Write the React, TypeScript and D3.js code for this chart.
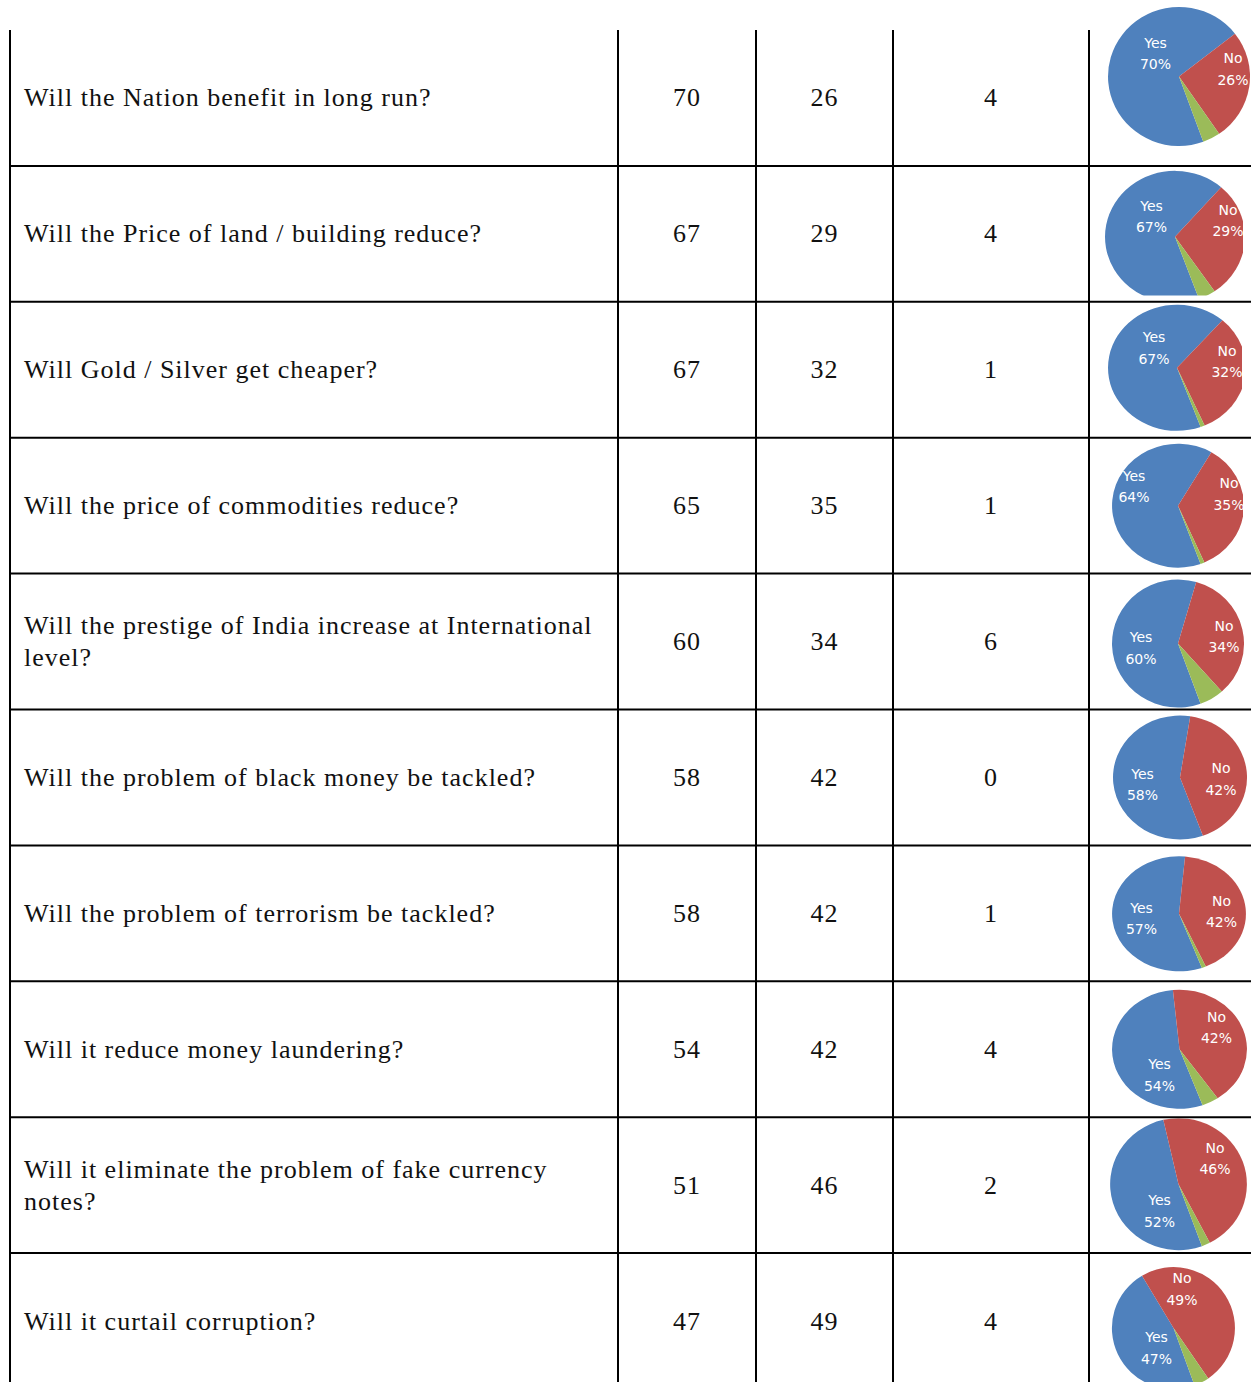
import React from "react";
import * as d3 from "d3";

const questions: string[][] = [
  ["Will the Nation benefit in long run?"],
  ["Will the Price of land / building reduce?"],
  ["Will Gold / Silver get cheaper?"],
  ["Will the price of commodities reduce?"],
  ["Will the prestige of India increase at International", "level?"],
  ["Will the problem of black money be tackled?"],
  ["Will the problem of terrorism be tackled?"],
  ["Will it reduce money laundering?"],
  ["Will it eliminate the problem of fake currency", "notes?"],
  ["Will it curtail corruption?"],
];
const yesValues = [70, 67, 67, 65, 60, 58, 58, 54, 51, 47];
const noValues = [26, 29, 32, 35, 34, 42, 42, 42, 46, 49];
const cantSayValues = [4, 4, 1, 1, 6, 0, 1, 4, 2, 4];

// pie chart percentages (as labelled in the embedded charts)
const pieYes = [70, 67, 67, 64, 60, 58, 57, 54, 52, 47];
const pieNo = [26, 29, 32, 35, 34, 42, 42, 42, 46, 49];
const pieOther = [4, 4, 1, 1, 6, 0, 1, 4, 2, 4];
const sliceNames = ["Yes", "No", "Other"];

// ---- layout (not data) ----
const W = 1251;
const H = 1382;
const colX = [10, 618, 756, 893, 1089];
const tableTop = 30;
const rowH = 135.9;
// pie placement: center offsets from (pieColCenter, rowCenter), radii, clip
const pieLayout = [
  { dx: 9, dy: -21.5, rx: 71, ry: 69.5, clipR: 1251, clipB: 2000 },
  { dx: 5, dy: 3, rx: 70, ry: 66, clipR: 1243, clipB: 295.5 },
  { dx: 7, dy: -2, rx: 69, ry: 63, clipR: 1242, clipB: 2000 },
  { dx: 8, dy: 0, rx: 66, ry: 62, clipR: 1243, clipB: 2000 },
  { dx: 8, dy: 2, rx: 66, ry: 64, clipR: 1251, clipB: 2000 },
  { dx: 10, dy: 0, rx: 67, ry: 62, clipR: 1251, clipB: 2000 },
  { dx: 9, dy: 0.5, rx: 67, ry: 57.5, clipR: 1251, clipB: 2000 },
  { dx: 9.5, dy: 0, rx: 67.5, ry: 59.5, clipR: 1251, clipB: 2000 },
  { dx: 8.5, dy: -1, rx: 68.5, ry: 66, clipR: 1251, clipB: 2000 },
  { dx: 3.5, dy: 7, rx: 61.5, ry: 61, clipR: 1251, clipB: 2000 },
];
const labelOffsets = [
  { yes: [-23.5, -23.5], no: [54, -8] },
  { yes: [-23.5, -21], no: [53, -17] },
  { yes: [-23, -20.5], no: [50, -7] },
  { yes: [-44, -20], no: [51, -12.5] },
  { yes: [-37, 3.5], no: [46, -8] },
  { yes: [-37.5, 6.5], no: [41, 1] },
  { yes: [-37.5, 4], no: [42.5, -3] },
  { yes: [-20, 25], no: [37, -22.5] },
  { yes: [-19, 26], no: [36.5, -26.5] },
  { yes: [-17, 19], no: [8.5, -40] },
];
const sliceColors = ["#4F81BD", "#C0504D", "#9BBB59"];

export default function App() {
  const n = questions.length;
  const y = d3.scaleLinear().domain([0, n]).range([tableTop, tableTop + rowH * n]);
  const pie = d3
    .pie<number>()
    .sort(null)
    .value((d) => d)
    .startAngle((160 * Math.PI) / 180)
    .endAngle((520 * Math.PI) / 180);
  const arc = d3.arc<d3.PieArcDatum<number>>().innerRadius(0).outerRadius(1);
  const pieColCenter = (colX[4] + W) / 2;
  const serif = "'Liberation Serif', 'Times New Roman', serif";
  const numCenters = [
    (colX[1] + colX[2]) / 2,
    (colX[2] + colX[3]) / 2,
    (colX[3] + colX[4]) / 2,
  ];

  return (
    <svg
      width={W}
      height={H}
      style={{ position: "absolute", left: 0, top: 0, background: "#fff" }}
    >
      <defs>
        {pieLayout.map((p, i) => (
          <clipPath id={`pclip${i}`} key={i}>
            <rect x={colX[4] + 1} y={i === 0 ? 0 : y(i) + 1} width={p.clipR - colX[4] - 1} height={Math.min(p.clipB, y(i + 1) - 1) - (i === 0 ? 0 : y(i) + 1)} />
          </clipPath>
        ))}
      </defs>
      <rect x={0} y={0} width={W} height={H} fill="#fff" />
      {questions.map((q, i) => {
        const cy = (y(i) + y(i + 1)) / 2;
        const lay = pieLayout[i];
        const cx = pieColCenter + lay.dx;
        const pcy = cy + lay.dy;
        const slices = pie([pieYes[i], pieNo[i], pieOther[i]]);
        const lineH = 32;
        const vals = [yesValues[i], noValues[i], cantSayValues[i]];
        const lo = labelOffsets[i];
        return (
          <g key={i}>
            {q.map((line, k) => (
              <text
                key={k}
                x={24}
                y={cy + 8.5 + (k - (q.length - 1) / 2) * lineH}
                fontFamily={serif}
                fontSize={26}
                letterSpacing={1}
                fill="#111"
              >
                {line}
              </text>
            ))}
            {vals.map((v, k) => (
              <text
                key={k}
                x={numCenters[k]}
                y={cy + 8.5}
                textAnchor="middle"
                fontFamily={serif}
                fontSize={26}
                letterSpacing={1}
                fill="#111"
              >
                {v}
              </text>
            ))}
            <g clipPath={`url(#pclip${i})`}>
              <g transform={`translate(${cx},${pcy}) scale(${lay.rx},${lay.ry})`}>
                {slices.map((s, k) =>
                  s.value > 0 ? (
                    <path key={k} d={arc(s) || ""} fill={sliceColors[k]} data-name={sliceNames[k]} />
                  ) : null
                )}
              </g>
              {[
                { name: "Yes", pct: pieYes[i], off: lo.yes },
                { name: "No", pct: pieNo[i], off: lo.no },
              ].map((l, k) => (
                <text
                  key={k}
                  x={cx + l.off[0]}
                  y={pcy + l.off[1]}
                  textAnchor="middle"
                  fontFamily="'DejaVu Sans', Verdana, sans-serif"
                  fontSize={14}
                  fill="#fff"
                >
                  <tspan x={cx + l.off[0]} dy={-5}>{l.name}</tspan>
                  <tspan x={cx + l.off[0]} dy={21.5}>{`${l.pct}%`}</tspan>
                </text>
              ))}
            </g>
          </g>
        );
      })}
      {/* grid lines */}
      {d3.range(1, n + 1).map((i) => (
        <line key={`h${i}`} x1={colX[0] - 1} x2={W} y1={y(i)} y2={y(i)} stroke="#000" strokeWidth={2} />
      ))}
      {colX.map((x, k) => (
        <line key={`v${k}`} x1={x} x2={x} y1={tableTop} y2={H} stroke="#000" strokeWidth={2} />
      ))}
    </svg>
  );
}
